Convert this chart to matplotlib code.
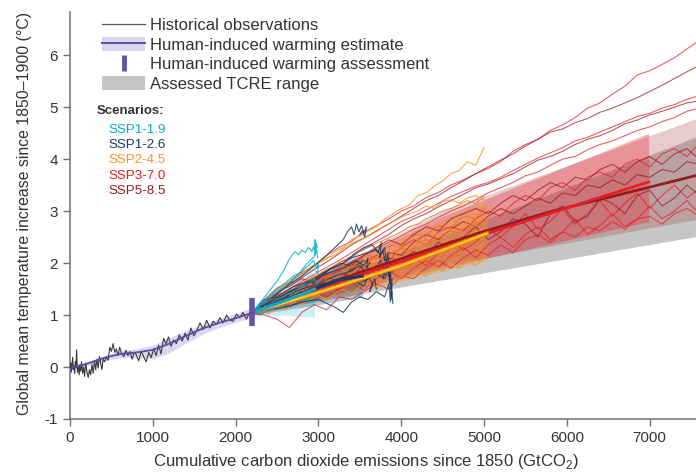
import numpy as np
import matplotlib
matplotlib.use("Agg")
import matplotlib.pyplot as plt
from matplotlib.lines import Line2D
from matplotlib.patches import Patch

plt.rcParams['font.family'] = ['Liberation Sans', 'DejaVu Sans']
plt.rcParams['axes.unicode_minus'] = False
plt.rcParams['mathtext.fontset'] = 'custom'
plt.rcParams['mathtext.rm'] = 'Liberation Sans'

# ---- historical observations (GtCO2, degC)
obs_x = [0, 8, 16, 24, 32, 40, 48, 56, 64, 72, 80, 90, 100, 110, 120, 130, 140, 152, 164, 176,
         190, 205, 220, 235, 250, 265, 280, 295, 310, 325, 340, 355, 370, 385, 400, 420, 440, 460,
         480, 500, 520, 540, 560, 580, 600, 625, 650, 675, 700, 725, 750, 775, 800, 830, 860, 890,
         920, 950, 980, 1010, 1040, 1070, 1100, 1130, 1160, 1190, 1220, 1250, 1285, 1320, 1355,
         1390, 1425, 1460, 1495, 1530, 1570, 1610, 1650, 1690, 1730, 1770, 1810, 1850, 1890, 1930,
         1970, 2010, 2050, 2090, 2130, 2170, 2200]
obs_y = [-0.02, 0.08, -0.1, 0.05, 0.18, -0.05, 0.02, -0.12, 0.1, 0.0, 0.33, -0.1, 0.02, -0.15,
         0.05, -0.08, 0.1, -0.12, 0.0, -0.18, 0.08, -0.1, -0.2, -0.05, -0.15, 0.05, -0.12, 0.12,
         -0.05, 0.15, -0.02, 0.2, 0.08, -0.05, 0.15, 0.1, 0.2, 0.13, 0.38, 0.3, 0.45, 0.28, 0.35,
         0.22, 0.38, 0.25, 0.2, 0.32, 0.22, 0.3, 0.15, 0.28, 0.24, 0.12, 0.3, 0.2, 0.1, 0.28, 0.18,
         0.35, 0.22, 0.42, 0.25, 0.55, 0.45, 0.58, 0.4, 0.52, 0.45, 0.62, 0.5, 0.65, 0.52, 0.75,
         0.6, 0.7, 0.85, 0.72, 0.9, 0.75, 0.88, 0.82, 0.95, 0.85, 1.0, 0.9, 0.88, 1.02, 0.95, 1.05,
         0.92, 1.05, 1.08]

# ---- human-induced warming estimate
hw_x = [0, 200, 400, 600, 800, 1000, 1200, 1400, 1600, 1800, 2000, 2200]
hw_y = [-0.03, 0.06, 0.17, 0.25, 0.28, 0.33, 0.45, 0.60, 0.74, 0.85, 0.94, 1.04]
hw_lo = [-0.06, 0.02, 0.12, 0.18, 0.18, 0.16, 0.27, 0.46, 0.63, 0.76, 0.86, 0.95]
hw_hi = [0.0, 0.1, 0.21, 0.31, 0.35, 0.42, 0.57, 0.7, 0.82, 0.93, 1.03, 1.14]

# ---- human-induced warming assessment (2010-2019)
assess_x = 2200
assess_lo, assess_hi = 0.79, 1.33

# ---- assessed TCRE range
tcre_x = [2200, 7600]
tcre_lo = [1.05, 2.52]
tcre_hi = [1.10, 4.45]

# ---- scenarios
scenarios = ['SSP1-1.9', 'SSP1-2.6', 'SSP2-4.5', 'SSP3-7.0', 'SSP5-8.5']
colors = ['#00ADCF', '#173C66', '#F79420', '#E71D25', '#951B1E']

# median lines
med_x = [[2200, 2600, 2952],
         [2200, 2700, 3250, 3530],
         [2200, 2976, 4000, 5036],
         [2200, 2976, 4940, 5783, 6988],
         [2200, 2976, 4940, 5783, 7000, 7600]]
med_y = [[1.05, 1.28, 1.5],
         [1.05, 1.35, 1.68, 1.75],
         [1.05, 1.42, 1.95, 2.57],
         [1.05, 1.5, 2.52, 2.95, 3.56],
         [1.05, 1.54, 2.58, 2.98, 3.46, 3.7]]

# assessed ranges (bands)
band_x = [[2200, 2600, 2952],
          [2200, 3000, 3530],
          [2200, 3600, 5036],
          [2200, 4500, 6988],
          [2200, 4500, 7600]]
band_lo = [[1.0, 1.0, 0.95],
           [1.0, 1.2, 1.35],
           [1.0, 1.5, 2.05],
           [1.0, 1.9, 2.8],
           [1.0, 1.95, 2.85]]
band_hi = [[1.12, 1.6, 2.0],
           [1.1, 1.8, 2.15],
           [1.1, 2.2, 3.2],
           [1.1, 2.9, 4.5],
           [1.1, 3.0, 4.8]]

# individual model runs, high emission scenarios on a shared x grid
hi_x = list(range(2200, 7601, 150))
ssp370_runs = [
    [1.05, 1.30, 1.52, 1.62, 1.82, 1.95, 2.15, 2.30, 2.42, 2.60, 2.72, 2.85, 3.00, 3.10, 3.26, 3.36,
     3.50, 3.60, 3.72, 3.82, 3.95, 4.15, 4.28, 4.38, 4.55, 4.66, 4.80, 4.98, 5.08, 5.25, 5.40, 5.62,
     5.70, 5.82, 5.95, 6.12, 6.28],
    [1.05, 1.22, 1.38, 1.5, 1.65, 1.78, 1.92, 2.05, 2.2, 2.35, 2.5, 2.65, 2.8, 2.9, 3.02, 3.15,
     3.28, 3.38, 3.48, 3.55, 3.65, 3.78, 3.9, 4.02, 4.12, 4.22, 4.35, 4.42, 4.52, 4.62, 4.72, 4.82,
     4.88, 4.98, 5.05, 5.15, 5.22],
    [1.05, 1.15, 1.28, 1.4, 1.52, 1.65, 1.78, 1.9, 2.02, 2.15, 2.28, 2.4, 2.52, 2.65, 2.75, 2.88,
     3.0, 3.1, 3.22, 3.35, 3.45, 3.55, 3.68, 3.75, 3.88, 4.0, 4.05, 4.18, 4.28, 4.35, 4.45, 4.55,
     4.62, 4.72, 4.8, 4.92, 4.98],
    [1.05, 1.2, 1.12, 1.4, 1.55, 1.45, 1.75, 1.85, 1.7, 2.0, 2.15, 2.05, 2.3, 2.45, 2.35, 2.6,
     2.7, 2.62, 2.85, 3.0, 2.9, 3.15, 3.3, 3.2, 3.45, 3.55, 3.4, 3.65, 3.75, 3.65, 3.9, 4.0,
     3.85, 4.1, 4.2, 4.05, 4.3],
    [1.05, 1.1, 1.25, 1.15, 1.3, 1.45, 1.35, 1.5, 1.62, 1.48, 1.7, 1.85, 1.7, 1.9, 2.05, 1.92,
     2.15, 2.3, 2.1, 2.35, 2.5, 2.3, 2.55, 2.7, 2.45, 2.6, 2.85, 2.55, 2.72, 2.95, 2.7, 2.85,
     3.1, 2.85, 3.0, 3.2, 2.95],
    [1.05, 1.15, 1.4, 1.3, 1.42, 1.55, 1.65, 1.45, 1.7, 1.8, 1.9, 1.75, 2.0, 2.1, 1.95, 2.2,
     2.45, 2.25, 2.4, 2.65, 2.5, 2.7, 2.95, 2.65, 2.8, 3.05, 2.75, 2.95, 3.2, 2.9, 3.15, 3.35,
     3.05, 3.3, 3.5, 3.25, 3.45],
    [1.05, 1.0, 0.92, 0.76, 1.05, 1.2, 1.1, 1.35, 1.3, 1.45, 1.6, 1.5, 1.75, 1.7, 1.9, 2.05,
     1.9, 2.1, 2.25, 2.15, 2.35, 2.2, 2.45, 2.55, 2.4, 2.6, 2.5, 2.7, 2.62, 2.8, 2.65, 2.85,
     2.9, 2.75, 2.95, 3.05, 2.9],
]
ssp585_runs = [
    [1.05, 1.25, 1.42, 1.58, 1.72, 1.88, 2.02, 2.18, 2.35, 2.48, 2.62, 2.75, 2.90, 3.05, 3.20, 3.30,
     3.45, 3.58, 3.72, 3.85, 3.98, 4.10, 4.25, 4.38, 4.52, 4.58, 4.70, 4.78, 4.90, 4.98, 5.08, 5.18,
     5.30, 5.42, 5.55, 5.68, 5.80],
    [1.05, 1.18, 1.32, 1.45, 1.6, 1.72, 1.85, 2.0, 2.12, 2.28, 2.42, 2.55, 2.72, 2.85, 2.95, 3.08,
     3.2, 3.32, 3.45, 3.52, 3.62, 3.72, 3.85, 3.98, 4.05, 4.15, 4.28, 4.38, 4.45, 4.55, 4.68, 4.75,
     4.85, 4.92, 5.0, 5.08, 5.12],
    [1.05, 1.25, 1.35, 1.22, 1.5, 1.62, 1.5, 1.6, 1.88, 1.95, 1.8, 2.1, 2.05, 2.22, 2.15, 2.4,
     2.3, 2.5, 2.7, 2.45, 2.6, 2.85, 2.75, 2.5, 2.95, 3.1, 2.8, 2.9, 3.25, 3.15, 2.95, 3.3,
     3.4, 3.1, 3.25, 3.5, 3.3],
    [1.05, 1.18, 1.3, 1.45, 1.38, 1.6, 1.72, 1.65, 1.9, 2.05, 1.95, 2.2, 2.15, 2.4, 2.55, 2.45,
     2.65, 2.8, 2.7, 2.9, 3.05, 2.95, 3.1, 3.25, 3.15, 3.35, 3.3, 3.5, 3.45, 3.6, 3.5, 3.7,
     3.65, 3.8, 3.75, 3.95, 3.9],
    [1.05, 1.25, 1.45, 1.55, 1.7, 1.62, 1.85, 2.0, 1.95, 2.15, 2.3, 2.45, 2.35, 2.55, 2.7, 2.62,
     2.85, 2.95, 3.05, 2.95, 3.15, 3.3, 3.2, 3.4, 3.55, 3.45, 3.65, 3.6, 3.8, 3.9, 3.75, 3.95,
     4.05, 3.9, 4.1, 4.2, 4.0],
]

# SSP2-4.5 runs
mid_x = list(range(2200, 5001, 100))
ssp245_runs = [
    [1.05, 1.18, 1.32, 1.5, 1.55, 1.72, 1.8, 1.92, 2.0, 2.08, 2.22, 2.3, 2.45, 2.52, 2.62, 2.7,
     2.85, 2.95, 3.05, 3.12, 3.3, 3.35, 3.48, 3.58, 3.72, 3.78, 3.95, 3.88, 4.22],
    [1.05, 1.12, 1.25, 1.35, 1.42, 1.55, 1.62, 1.7, 1.78, 1.88, 1.95, 2.05, 2.1, 2.22, 2.3, 2.38,
     2.45, 2.52, 2.6, 2.7, 2.75, 2.85, 2.92, 3.0, 3.05, 3.12, 3.2, 3.15, 3.28],
    [1.05, 1.15, 1.1, 1.3, 1.25, 1.45, 1.38, 1.6, 1.52, 1.7, 1.65, 1.85, 1.78, 1.95, 2.05, 1.92,
     2.15, 2.1, 2.3, 2.2, 2.45, 2.35, 2.55, 2.5, 2.65, 2.6, 2.8, 2.7, 2.9],
    [1.05, 1.0, 1.2, 1.12, 1.3, 1.22, 1.4, 1.35, 1.5, 1.45, 1.62, 1.55, 1.7, 1.65, 1.8, 1.75,
     1.92, 1.85, 2.0, 1.95, 2.1, 2.05, 2.2, 2.12, 2.3, 2.25, 2.4, 2.32, 2.45],
    [1.05, 1.1, 1.02, 1.18, 1.1, 1.25, 1.2, 1.3, 1.38, 1.28, 1.42, 1.5, 1.4, 1.55, 1.62, 1.5,
     1.68, 1.6, 1.75, 1.7, 1.85, 1.75, 1.95, 1.85, 2.0, 1.9, 2.05, 1.95, 2.1],
    [1.05, 1.2, 1.3, 1.28, 1.45, 1.55, 1.5, 1.68, 1.75, 1.7, 1.88, 1.95, 1.9, 2.08, 2.15, 2.1,
     2.28, 2.35, 2.3, 2.48, 2.55, 2.5, 2.68, 2.72, 2.65, 2.85, 2.9, 2.85, 3.05],
    [1.05, 1.12, 1.2, 1.32, 1.28, 1.4, 1.48, 1.45, 1.58, 1.65, 1.6, 1.72, 1.8, 1.75, 1.9, 1.98,
     1.92, 2.05, 2.12, 2.08, 2.22, 2.3, 2.25, 2.4, 2.45, 2.4, 2.55, 2.6, 2.65],
    [1.05, 1.15, 1.25, 1.2, 1.38, 1.45, 1.55, 1.5, 1.65, 1.75, 1.7, 1.85, 1.95, 1.88, 2.02, 2.1,
     2.05, 2.2, 2.28, 2.22, 2.38, 2.45, 2.4, 2.55, 2.62, 2.58, 2.72, 2.78, 2.8],
    [1.05, 1.2, 1.35, 1.45, 1.6, 1.7, 1.78, 1.9, 2.0, 2.1, 2.15, 2.28, 2.38, 2.45, 2.52, 2.6,
     2.72, 2.8, 2.88, 2.95, 3.0, 3.1, 3.05, 3.18, 3.22, 3.15, 3.25, 3.3, 3.22],
    [1.05, 1.08, 1.15, 1.22, 1.2, 1.32, 1.35, 1.42, 1.4, 1.5, 1.55, 1.52, 1.62, 1.68, 1.65, 1.75,
     1.8, 1.78, 1.88, 1.92, 1.9, 2.0, 2.05, 2.02, 2.12, 2.15, 2.1, 2.2, 2.25],
]

# SSP1-2.6 runs (cumulative emissions turn back)
ssp126_x = [
    [2200, 2350, 2500, 2650, 2800, 2950, 3100, 3200, 3300, 3350, 3400, 3430, 3460, 3490, 3520, 3550, 3580, 3560, 3530, 3500],
    [2200, 2350, 2500, 2650, 2800, 2950, 3100, 3250, 3400, 3500, 3600, 3700, 3750, 3800, 3820, 3840, 3860, 3870, 3880, 3890],
    [2200, 2400, 2600, 2800, 3000, 3200, 3300, 3400, 3500, 3600, 3700, 3800, 3850, 3870, 3880, 3900],
    [2200, 2400, 2600, 2800, 3000, 3200, 3400, 3500, 3600, 3700, 3750, 3800, 3780, 3820, 3850],
    [2200, 2300, 2450, 2600, 2750, 2900, 3050, 3200, 3350, 3450, 3550, 3600, 3650, 3620, 3680, 3700],
    [2200, 2400, 2600, 2800, 3000, 3150, 3300, 3450, 3550, 3650, 3720, 3760, 3740, 3780, 3800],
    [2200, 2400, 2600, 2800, 3000, 3200, 3400, 3550, 3700, 3800, 3850, 3880, 3860, 3890],
    [2200, 2350, 2500, 2700, 2900, 3100, 3300, 3450, 3550, 3600, 3580, 3620],
]
ssp126_y = [
    [1.05, 1.25, 1.4, 1.6, 1.75, 1.95, 2.15, 2.3, 2.45, 2.6, 2.7, 2.55, 2.75, 2.6, 2.72, 2.58, 2.7, 2.5, 2.62, 2.55],
    [1.05, 1.2, 1.3, 1.45, 1.55, 1.7, 1.85, 1.95, 2.1, 2.15, 2.2, 2.25, 2.15, 2.3, 2.0, 2.2, 1.6, 1.9, 1.3, 1.7],
    [1.05, 1.1, 1.15, 1.25, 1.3, 1.15, 1.05, 1.25, 1.35, 1.3, 1.45, 1.35, 1.6, 1.25, 1.55, 1.22],
    [1.05, 1.2, 1.35, 1.5, 1.6, 1.75, 1.85, 1.95, 1.8, 1.9, 2.05, 1.85, 1.7, 1.95, 1.75],
    [1.05, 1.1, 1.25, 1.2, 1.4, 1.45, 1.62, 1.58, 1.72, 1.65, 1.55, 1.75, 1.6, 1.45, 1.7, 1.5],
    [1.05, 1.25, 1.4, 1.55, 1.7, 1.9, 2.0, 2.2, 2.3, 2.35, 2.2, 2.4, 2.1, 2.25, 2.05],
    [1.05, 1.15, 1.3, 1.45, 1.5, 1.6, 1.7, 1.65, 1.8, 1.7, 1.9, 1.5, 1.75, 1.4],
    [1.05, 1.3, 1.35, 1.55, 1.65, 1.8, 1.9, 2.05, 1.95, 2.1, 1.9, 2.0],
]

# SSP1-1.9 runs
ssp119_x = [
    [2200, 2300, 2400, 2500, 2580, 2640, 2680, 2720, 2760, 2800, 2840, 2880, 2920, 2945, 2955, 2960, 2968, 2975, 2985],
    [2200, 2300, 2400, 2500, 2600, 2700, 2800, 2880, 2940, 2980, 3000, 2990, 2970],
    [2200, 2300, 2400, 2500, 2600, 2700, 2800, 2900, 2950, 2980, 2960, 2940],
    [2200, 2280, 2360, 2440, 2520, 2600, 2680, 2760, 2840, 2900, 2940, 2920],
    [2200, 2300, 2400, 2500, 2600, 2700, 2780, 2850, 2900, 2870],
    [2200, 2300, 2400, 2500, 2600, 2700, 2780, 2840, 2900, 2950, 2980, 2990],
    [2200, 2250, 2300, 2350, 2400, 2450, 2500, 2550, 2600, 2650, 2700, 2750, 2800],
]
ssp119_y = [
    [1.05, 1.25, 1.45, 1.65, 1.85, 2.05, 2.15, 2.22, 2.16, 2.25, 2.2, 2.3, 2.22, 2.32, 2.15, 2.45, 2.2, 2.38, 2.3],
    [1.05, 1.2, 1.3, 1.45, 1.55, 1.7, 1.85, 1.95, 2.05, 1.9, 2.0, 1.8, 1.85],
    [1.05, 1.12, 1.2, 1.3, 1.38, 1.45, 1.55, 1.62, 1.7, 1.6, 1.5, 1.55],
    [1.05, 1.15, 1.08, 1.22, 1.18, 1.32, 1.28, 1.4, 1.35, 1.48, 1.42, 1.38],
    [1.05, 1.0, 1.1, 1.15, 1.2, 1.25, 1.3, 1.28, 1.35, 1.3],
    [1.05, 1.2, 1.35, 1.5, 1.62, 1.75, 1.82, 1.95, 2.05, 2.12, 2.25, 2.1],
    [1.05, 1.12, 1.08, 1.18, 1.15, 1.25, 1.22, 1.3, 1.28, 1.36, 1.32, 1.4, 1.35],
]

purple = '#5E4BA6'

fig = plt.figure(figsize=(6.96, 4.74), dpi=100)
ax = fig.add_axes([70 / 696, 55 / 474, 626 / 696, 407 / 474])

# TCRE range and scenario bands
ax.fill_between(tcre_x, tcre_lo, tcre_hi, color='#C6C6C6', lw=0, zorder=1)
band_alpha = [0.2, 0.3, 0.35, 0.32, 0.22]
for i in [4, 3, 2, 1, 0]:
    ax.fill_between(band_x[i], band_lo[i], band_hi[i], color=colors[i], alpha=band_alpha[i],
                    lw=0, zorder=2)

# model runs
for run in ssp370_runs:
    ax.plot(hi_x, run, color=colors[3], lw=0.75, alpha=0.75, zorder=3)
for run in ssp585_runs:
    ax.plot(hi_x, run, color=colors[4], lw=0.75, alpha=0.75, zorder=3)
for k, run in enumerate(ssp245_runs):
    c = colors[2] if k % 2 == 0 else '#E8711C'
    ax.plot(mid_x, run, color=c, lw=0.75, alpha=0.85, zorder=3.2)
for xs, ys in zip(ssp126_x, ssp126_y):
    ax.plot(xs, ys, color=colors[1], lw=0.8, alpha=0.85, zorder=3.4)
for xs, ys in zip(ssp119_x, ssp119_y):
    ax.plot(xs, ys, color=colors[0], lw=0.8, alpha=0.85, zorder=3.5)

# history
ax.fill_between(hw_x, hw_lo, hw_hi, color='#DCD7EE', lw=0, zorder=1)
ax.plot(obs_x, obs_y, color='#3A3A3A', lw=0.8, zorder=4)
ax.plot(hw_x, hw_y, color=purple, lw=1.3, zorder=4.5)

# medians
ax.plot(med_x[4], med_y[4], color=colors[4], lw=2, zorder=5)
ax.plot(med_x[3], med_y[3], color=colors[3], lw=2, zorder=5.1)
ax.plot(med_x[2], med_y[2], color='#F07D1A', lw=3, zorder=5.2)
ax.plot(med_x[2], med_y[2], color='#FFD21A', lw=1.4, zorder=5.3)
ax.plot(med_x[1], med_y[1], color=colors[1], lw=2.2, zorder=5.4)
ax.plot(med_x[0], med_y[0], color=colors[0], lw=2.2, zorder=5.5)

ax.plot([assess_x, assess_x], [assess_lo, assess_hi], color='#6650A8', lw=4,
        solid_capstyle='butt', zorder=6)

# axes styling
ax.set_xlim(0, 7560)
ax.set_ylim(-1, 6.83)
ax.set_xticks(range(0, 7001, 1000))
ax.set_yticks(range(-1, 7))
for s in ['top', 'right']:
    ax.spines[s].set_visible(False)
for s in ['left', 'bottom']:
    ax.spines[s].set_color('#707070')
    ax.spines[s].set_linewidth(1.1)
ax.tick_params(colors='#707070', labelcolor='#333333', labelsize=11, length=5, width=1)

fig.text(366 / 696, 1 - 452 / 474, 'Cumulative carbon dioxide emissions since 1850 (GtCO$_2$)',
         ha='center', va='top', fontsize=12, color='#333333')
fig.text(25 / 696, 1 - 415 / 474, 'Global mean temperature increase since 1850\u20131900 (\u00b0C)',
         rotation=90, ha='center', va='bottom', fontsize=11.4, color='#333333')

# legend
h_obs = Line2D([], [], color='#555555', lw=0.9)
h_est = (Patch(facecolor='#DCD7EE', edgecolor='none'), Line2D([], [], color=purple, lw=1.4))
h_ass = Line2D([], [], color='#6650A8', marker='|', ms=11, mew=3.5, ls='none')
h_tcre = Patch(facecolor='#C6C6C6', edgecolor='none')
leg_labels = ['Historical observations', 'Human-induced warming estimate',
              'Human-induced warming assessment', 'Assessed TCRE range']
ax.legend([h_obs, h_est, h_ass, h_tcre], leg_labels, loc='upper left',
          bbox_to_anchor=(102 / 696, 1 - 17 / 474), bbox_transform=fig.transFigure,
          frameon=False, fontsize=12, handlelength=2.6, handleheight=1.0, handletextpad=0.3,
          labelspacing=0.2, borderpad=0, borderaxespad=0, labelcolor='#333333')

fig.text(97 / 696, 1 - 111 / 474, 'Scenarios:', fontsize=9.5, fontweight='bold',
         color='#333333', va='center')
for i, name in enumerate(scenarios):
    fig.text(108 / 696, 1 - (130 + 15.2 * i) / 474, name, color=colors[i], fontsize=9.6,
             va='center')

fig.savefig('out.png', dpi=100)
